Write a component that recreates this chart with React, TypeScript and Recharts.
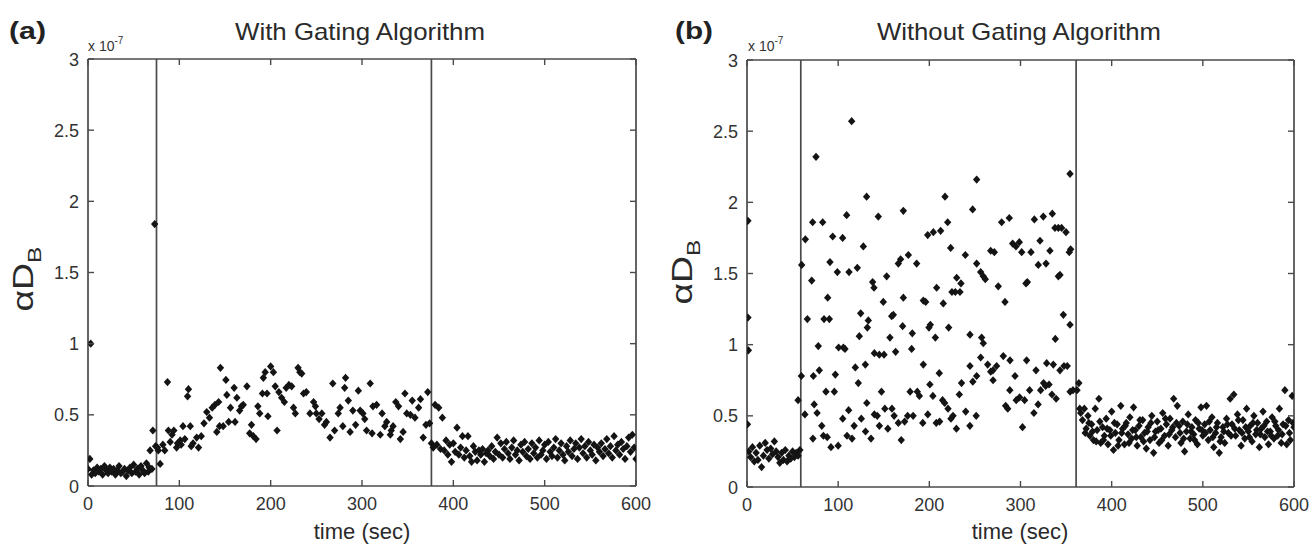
import React from "react";
import { ScatterChart, Scatter, XAxis, YAxis, ReferenceLine } from "recharts";

// values are in units of 1e-7 (the axis carries the "x 10^-7" factor)
const STEP = 2; // sampling interval, seconds
const X_TICKS = [0, 100, 200, 300, 400, 500, 600];
const Y_TICKS = [0, 0.5, 1, 1.5, 2, 2.5, 3];

// ---- (a) With Gating Algorithm
const aGates = [75, 376];
const aStartVals = [
  0.12, 0.19, 0.08, 0.11, 0.09, 0.13, 0.1, 0.12, 0.08, 0.14, 0.11, 0.09, 0.13, 0.1, 0.12, 0.08, 0.11,
  0.14, 0.09, 0.1, 0.12, 0.07, 0.11, 0.13, 0.09, 0.15, 0.1, 0.12, 0.08, 0.14, 0.11, 0.09, 0.16, 0.1,
];
const aStartExtra = [
  [3, 1.0], [67, 0.13], [68, 0.25], [70, 0.12], [71, 0.39], [73, 1.84], [74, 0.28],
];
const aMiddle = [
  [76, 0.27], [77, 0.25], [79, 0.155], [82, 0.29], [84, 0.25], [87, 0.73], [88, 0.39], [90, 0.31],
  [92, 0.36], [94, 0.39], [97, 0.27], [98, 0.3], [101, 0.32], [102, 0.29], [104, 0.42], [106, 0.33],
  [109, 0.63], [110, 0.68], [112, 0.42], [113, 0.28], [115, 0.3], [119, 0.34], [121, 0.27], [124, 0.35],
  [127, 0.44], [130, 0.52], [133, 0.48], [136, 0.55], [139, 0.57], [141, 0.38], [143, 0.59], [144, 0.42],
  [145, 0.83], [148, 0.42], [151, 0.745], [152, 0.64], [154, 0.45], [156, 0.55], [160, 0.69], [161, 0.45],
  [163, 0.62], [166, 0.53], [168, 0.56], [170, 0.57], [174, 0.7], [177, 0.37], [179, 0.43], [181, 0.35],
  [184, 0.33], [186, 0.56], [188, 0.51], [191, 0.65], [192, 0.76], [194, 0.8], [196, 0.65], [197, 0.49],
  [200, 0.84], [203, 0.8], [205, 0.7], [207, 0.39], [209, 0.66], [212, 0.62], [215, 0.59], [217, 0.69],
  [220, 0.71], [223, 0.7], [225, 0.55], [227, 0.51], [230, 0.83], [232, 0.8], [234, 0.79], [236, 0.65],
  [239, 0.66], [243, 0.51], [247, 0.59], [249, 0.56], [250, 0.51], [253, 0.47], [256, 0.51], [259, 0.43],
  [261, 0.45], [265, 0.34], [268, 0.72], [270, 0.39], [274, 0.51], [276, 0.55], [279, 0.42], [281, 0.69],
  [282, 0.76], [285, 0.6], [287, 0.38], [290, 0.53], [293, 0.43], [296, 0.67], [298, 0.53], [301, 0.51],
  [303, 0.47], [305, 0.39], [309, 0.72], [311, 0.37], [312, 0.56], [316, 0.57], [320, 0.36], [322, 0.51],
  [325, 0.42], [327, 0.45], [331, 0.36], [332, 0.39], [334, 0.42], [337, 0.59], [340, 0.56], [342, 0.33],
  [345, 0.38], [347, 0.65], [349, 0.51], [353, 0.5], [355, 0.6], [358, 0.48], [362, 0.55], [364, 0.61],
  [367, 0.34], [370, 0.43], [372, 0.66], [374, 0.44],
];
const aEndStart = 376;
const aEndVals = [
  0.3, 0.27, 0.57, 0.29, 0.55, 0.26, 0.48, 0.25, 0.32, 0.22, 0.29, 0.17, 0.3, 0.24, 0.41, 0.22, 0.27,
  0.35, 0.2, 0.25, 0.35, 0.21, 0.17, 0.28, 0.24, 0.18, 0.25, 0.22, 0.26, 0.17, 0.23, 0.25, 0.21, 0.28,
  0.19, 0.24, 0.34, 0.22, 0.3, 0.2, 0.26, 0.31, 0.23, 0.19, 0.27, 0.32, 0.22, 0.25, 0.18, 0.29, 0.24,
  0.31, 0.21, 0.26, 0.19, 0.3, 0.23, 0.27, 0.2, 0.32, 0.22, 0.25, 0.29, 0.19, 0.31, 0.24, 0.21, 0.27,
  0.33, 0.2, 0.25, 0.3, 0.22, 0.18, 0.28, 0.24, 0.32, 0.21, 0.26, 0.3, 0.19, 0.27, 0.33, 0.23, 0.28,
  0.2, 0.31, 0.25, 0.22, 0.29, 0.18, 0.27, 0.24, 0.3, 0.21, 0.26, 0.33, 0.23, 0.28, 0.2, 0.35, 0.25,
  0.29, 0.22, 0.31, 0.26, 0.19, 0.28, 0.34, 0.24, 0.36, 0.27, 0.19,
];

// ---- (b) Without Gating Algorithm
const bGates = [59, 361];
const bStartStart = 2;
const bStartVals = [
  0.25, 0.21, 0.28, 0.18, 0.24, 0.19, 0.29, 0.14, 0.22, 0.31, 0.26, 0.2, 0.27, 0.23, 0.32, 0.25, 0.21,
  0.17, 0.24, 0.19, 0.26, 0.18, 0.22, 0.2, 0.25, 0.21, 0.24, 0.22, 0.26,
];
const bStartExtra = [[0.5, 0.44], [1, 1.87], [1, 1.19], [1.5, 0.96], [56, 0.61]];
const bMiddleHigh = [
  [114.8, 2.57], [75.7, 2.32], [354.3, 2.2], [251.9, 2.16], [131.2, 2.04], [217.2, 2.04], [247.5, 1.95],
  [171.5, 1.94], [109.3, 1.91], [144, 1.9], [287.7, 1.89], [315.2, 1.88], [325, 1.9], [334.9, 1.92],
  [72, 1.86], [83, 1.86], [279.3, 1.86], [220.1, 1.86], [212.4, 1.8], [204.4, 1.79], [198.2, 1.77],
  [337.8, 1.82], [341.5, 1.82], [345.1, 1.82], [349.9, 1.79], [94, 1.76], [104.9, 1.75], [64, 1.74],
  [127.6, 1.69], [223.4, 1.68], [298.7, 1.72], [321.4, 1.73], [291.4, 1.71], [295, 1.69], [267.3, 1.66],
  [271.3, 1.65], [301.3, 1.65], [311.5, 1.65], [332.3, 1.66], [355, 1.67], [353.5, 1.65], [177, 1.63],
  [168.5, 1.6], [166, 1.57], [186.1, 1.57], [91, 1.58], [60, 1.56], [121, 1.54], [111.9, 1.51],
  [99.1, 1.51], [239.5, 1.63], [251.9, 1.57], [256.3, 1.51], [259.2, 1.48], [261.4, 1.46], [153.2, 1.48],
  [319.5, 1.56], [328, 1.57], [307.5, 1.44], [306, 1.43], [343.3, 1.49], [341.5, 1.48], [230, 1.47],
  [234.7, 1.43], [71, 1.45], [137.8, 1.44], [139.3, 1.4], [208, 1.4], [196, 1.3], [215.3, 1.29],
  [193.4, 1.31], [224.8, 1.37], [228.5, 1.37], [233.6, 1.37], [275.6, 1.41], [88.5, 1.33], [149.5, 1.3],
  [171.5, 1.33], [347, 1.21], [158.7, 1.2], [160.5, 1.21], [66.2, 1.18], [84.5, 1.18], [90.3, 1.18],
  [124.7, 1.22], [133.1, 1.17], [132, 1.12], [201.1, 1.14], [199.6, 1.12], [221.2, 1.12], [244.6, 1.07],
  [257.4, 1.05], [259.2, 1.01], [156.8, 1.05], [170.7, 1.13], [181.3, 1.08], [206.6, 1.05], [354.3, 1.14],
  [338.2, 1.04], [283, 1.3], [105.7, 0.98], [100.5, 0.98], [78.2, 0.99], [123.2, 1.06], [163, 0.95],
  [107.5, 0.97], [139.7, 0.94], [145.1, 0.93], [150.3, 0.93], [180.6, 0.97], [129.8, 0.86], [118.8, 0.84],
  [79.3, 0.82], [193.4, 0.86], [210.9, 0.8], [244.6, 0.85], [256.3, 0.91], [264, 0.86], [267.3, 0.81],
  [269.8, 0.82], [273.8, 0.85], [281.1, 0.92], [288.5, 0.89], [306.7, 0.89], [317, 0.82], [328.7, 0.87],
  [336, 0.86], [343.3, 0.82], [347.7, 0.85], [351.3, 0.85], [59.6, 0.78], [72.8, 0.78], [96.9, 0.79],
  [251.9, 0.78], [294, 0.78],
];
const bMiddleLow = [
  [63.5, 0.51], [72.3, 0.34], [73.7, 0.58], [76.9, 0.52], [82, 0.43], [83.8, 0.36], [86.6, 0.67],
  [88, 0.35], [92.1, 0.28], [95.8, 0.67], [100, 0.29], [105, 0.48], [109.7, 0.36], [111.5, 0.54],
  [115.2, 0.34], [117.5, 0.43], [122.1, 0.73], [125.4, 0.48], [130, 0.39], [131.4, 0.59], [136, 0.34],
  [139.7, 0.51], [142.9, 0.5], [145.2, 0.43], [147.5, 0.67], [151.2, 0.55], [154.5, 0.41], [159, 0.55],
  [161.4, 0.5], [166, 0.45], [169.2, 0.33], [172.9, 0.46], [176.2, 0.5], [178.9, 0.67], [182.2, 0.5],
  [186.8, 0.67], [189.1, 0.64], [192.8, 0.45], [198.3, 0.51], [200.6, 0.72], [203.9, 0.64], [207.6, 0.45],
  [211.3, 0.46], [214.5, 0.61], [216.8, 0.59], [220.5, 0.55], [223.7, 0.48], [226, 0.5], [229.7, 0.41],
  [232.9, 0.65], [235.3, 0.73], [239.9, 0.53], [244.5, 0.43], [247.7, 0.74], [251.4, 0.5], [269.9, 0.75],
  [283.7, 0.57], [286, 0.55], [288.3, 0.68], [295.3, 0.61], [299, 0.63], [302.2, 0.42], [304.5, 0.61],
  [310, 0.68], [314.7, 0.52], [319.3, 0.58], [322.1, 0.68], [325.3, 0.73], [327.6, 0.71], [331.3, 0.72],
  [334.5, 0.65], [339.1, 0.62], [354.4, 0.67], [357.6, 0.68],
];
const bEndStart = 362;
const bEndVals = [
  0.68, 0.73, 0.52, 0.47, 0.55, 0.41, 0.5, 0.36, 0.44, 0.33, 0.55, 0.4, 0.62, 0.31, 0.42, 0.36, 0.48,
  0.3, 0.4, 0.53, 0.26, 0.38, 0.44, 0.33, 0.57, 0.41, 0.3, 0.45, 0.37, 0.49, 0.34, 0.56, 0.4, 0.29,
  0.43, 0.35, 0.47, 0.38, 0.27, 0.42, 0.33, 0.5, 0.24, 0.39, 0.46, 0.31, 0.41, 0.52, 0.36, 0.44, 0.29,
  0.48, 0.4, 0.62, 0.35, 0.57, 0.43, 0.31, 0.46, 0.25, 0.39, 0.51, 0.34, 0.42, 0.37, 0.47, 0.3, 0.41,
  0.56, 0.36, 0.44, 0.57, 0.33, 0.4, 0.49, 0.28, 0.38, 0.45, 0.24, 0.35, 0.42, 0.31, 0.48, 0.38, 0.62,
  0.44, 0.65, 0.36, 0.51, 0.4, 0.29, 0.47, 0.34, 0.55, 0.39, 0.43, 0.32, 0.5, 0.37, 0.45, 0.28, 0.41,
  0.53, 0.35, 0.46, 0.3, 0.39, 0.49, 0.34, 0.43, 0.36, 0.55, 0.31, 0.44, 0.68, 0.3, 0.47, 0.33, 0.64,
  0.42,
];
// extra samples filling the dense band after the second gate
const bEndExtra = [
  [365, 0.55], [371, 0.38], [375, 0.45], [379, 0.39], [383, 0.32], [387, 0.46], [391, 0.33], [395, 0.41],
  [399, 0.36], [403, 0.45], [407, 0.29], [411, 0.38], [415, 0.43], [419, 0.31], [423, 0.4], [427, 0.35],
  [431, 0.47], [435, 0.32], [439, 0.39], [443, 0.45], [447, 0.35], [451, 0.4], [455, 0.33], [459, 0.48],
  [463, 0.37], [467, 0.42], [471, 0.45], [475, 0.38], [479, 0.34], [483, 0.44], [487, 0.39], [491, 0.33],
  [495, 0.45], [499, 0.4], [503, 0.38], [507, 0.46], [511, 0.35], [515, 0.42], [519, 0.32], [523, 0.39],
  [527, 0.44], [531, 0.36], [535, 0.41], [539, 0.47], [543, 0.38], [547, 0.42], [551, 0.35], [555, 0.45],
  [559, 0.4], [563, 0.37], [567, 0.43], [571, 0.39], [575, 0.36], [579, 0.46], [583, 0.4], [587, 0.37],
  [591, 0.43], [595, 0.38], [599, 0.45],
];

type Pt = { t: number; v: number };
const fromGrid = (start: number, vals: number[]): Pt[] => vals.map((v, i) => ({ t: start + i * STEP, v }));
const fromPairs = (pairs: number[][]): Pt[] => pairs.map(([t, v]) => ({ t, v }));

const aPoints = [
  ...fromGrid(0, aStartVals),
  ...fromPairs(aStartExtra),
  ...fromPairs(aMiddle),
  ...fromGrid(aEndStart, aEndVals),
];
const bPoints = [
  ...fromGrid(bStartStart, bStartVals),
  ...fromPairs(bStartExtra),
  ...fromPairs(bMiddleHigh),
  ...fromPairs(bMiddleLow),
  ...fromGrid(bEndStart, bEndVals),
  ...fromPairs(bEndExtra),
];

const FRAME = "#4a4a4a";
const TEXT = "#333";
const MARK = "#141414";
const FONT = "'Liberation Sans', Arial, Helvetica, sans-serif";
const TICK_LEN = 6;

const Diamond = (props: any) => {
  const { cx, cy } = props;
  if (cx == null || cy == null) return null;
  return <path d={`M${cx},${cy - 4.1}L${cx + 3.7},${cy}L${cx},${cy + 4.1}L${cx - 3.7},${cy}Z`} fill={MARK} />;
};

const BottomTick = (p: any) => (
  <g>
    <line x1={p.x} y1={p.y} x2={p.x} y2={p.y - TICK_LEN} stroke={FRAME} strokeWidth={1.4} />
    <text x={p.x} y={p.y + 24} textAnchor="middle" fontSize={18} fill={TEXT} fontFamily={FONT}>
      {p.payload.value}
    </text>
  </g>
);
const TopTick = (p: any) => (
  <line x1={p.x} y1={p.y} x2={p.x} y2={p.y + TICK_LEN} stroke={FRAME} strokeWidth={1.4} />
);
const LeftTick = (p: any) => (
  <g>
    <line x1={p.x} y1={p.y} x2={p.x + TICK_LEN} y2={p.y} stroke={FRAME} strokeWidth={1.4} />
    <text x={p.x - 9} y={p.y + 6.5} textAnchor="end" fontSize={18} fill={TEXT} fontFamily={FONT}>
      {p.payload.value}
    </text>
  </g>
);
const RightTick = (p: any) => (
  <line x1={p.x} y1={p.y} x2={p.x - TICK_LEN} y2={p.y} stroke={FRAME} strokeWidth={1.4} />
);

type Margin = { top: number; right: number; bottom: number; left: number };

const Panel = ({ points, gates, margin }: { points: Pt[]; gates: number[]; margin: Margin }) => {
  const axisLine = { stroke: FRAME, strokeWidth: 1.7 };
  return (
    <ScatterChart width={655} height={546} margin={margin}>
      <XAxis
        xAxisId="bottom"
        type="number"
        dataKey="t"
        domain={[0, 600]}
        ticks={X_TICKS}
        interval={0}
        height={30}
        tickSize={0}
        tickMargin={0}
        tickLine={false}
        axisLine={axisLine}
        tick={(p: any) => <BottomTick {...p} />}
        allowDataOverflow
      />
      <XAxis
        xAxisId="top"
        orientation="top"
        type="number"
        dataKey="t"
        domain={[0, 600]}
        ticks={X_TICKS}
        interval={0}
        height={1}
        tickSize={0}
        tickMargin={0}
        tickLine={false}
        axisLine={axisLine}
        tick={(p: any) => <TopTick {...p} />}
        allowDataOverflow
      />
      <YAxis
        yAxisId="left"
        type="number"
        dataKey="v"
        domain={[0, 3]}
        ticks={Y_TICKS}
        interval={0}
        width={60}
        tickSize={0}
        tickMargin={0}
        tickLine={false}
        axisLine={axisLine}
        tick={(p: any) => <LeftTick {...p} />}
        allowDataOverflow
      />
      <YAxis
        yAxisId="right"
        orientation="right"
        type="number"
        dataKey="v"
        domain={[0, 3]}
        ticks={Y_TICKS}
        interval={0}
        width={1}
        tickSize={0}
        tickMargin={0}
        tickLine={false}
        axisLine={axisLine}
        tick={(p: any) => <RightTick {...p} />}
        allowDataOverflow
      />
      {gates.map((g) => (
        <ReferenceLine key={g} x={g} xAxisId="bottom" yAxisId="left" stroke={FRAME} strokeWidth={1.7} />
      ))}
      <Scatter
        data={points}
        xAxisId="bottom"
        yAxisId="left"
        shape={(p: any) => <Diamond {...p} />}
        isAnimationActive={false}
      />
    </ScatterChart>
  );
};

const Labels = () => (
  <svg width={1310} height={546} style={{ position: "absolute", left: 0, top: 0, pointerEvents: "none" }} fontFamily={FONT}>
    {/* panel (a) */}
    <text x={9} y={39} fontSize={24} fontWeight="bold" fill="#222" textLength={37} lengthAdjust="spacingAndGlyphs">(a)</text>
    <text x={360} y={40} fontSize={24} fill="#2a2a2a" textAnchor="middle" textLength={250} lengthAdjust="spacingAndGlyphs">
      With Gating Algorithm
    </text>
    <text x={88} y={51} fontSize={14} fill={TEXT}>
      x 10<tspan fontSize={10} dy={-7}>-7</tspan>
    </text>
    <text transform="translate(33,279) rotate(-90)" fontSize={29} fill="#2a2a2a" textAnchor="middle" textLength={65} lengthAdjust="spacingAndGlyphs">
      αD<tspan fontSize={19} dy={8}>B</tspan>
    </text>
    <text x={362} y={539} fontSize={22} fill="#2a2a2a" textAnchor="middle">time (sec)</text>

    {/* panel (b) */}
    <text x={675} y={39} fontSize={24} fontWeight="bold" fill="#222" textLength={38} lengthAdjust="spacingAndGlyphs">(b)</text>
    <text x={1019} y={40} fontSize={24} fill="#2a2a2a" textAnchor="middle" textLength={284} lengthAdjust="spacingAndGlyphs">
      Without Gating Algorithm
    </text>
    <text x={748} y={51} fontSize={14} fill={TEXT}>
      x 10<tspan fontSize={10} dy={-7}>-7</tspan>
    </text>
    <text transform="translate(692,272) rotate(-90)" fontSize={29} fill="#2a2a2a" textAnchor="middle" textLength={65} lengthAdjust="spacingAndGlyphs">
      αD<tspan fontSize={19} dy={8}>B</tspan>
    </text>
    <text x={1020} y={539} fontSize={22} fill="#2a2a2a" textAnchor="middle">time (sec)</text>
  </svg>
);

export default function App() {
  return (
    <div style={{ position: "absolute", left: 0, top: 0, width: 1310, height: 546, background: "#fff", fontFamily: FONT }}>
      <div style={{ position: "absolute", left: 0, top: 0 }}>
        <Panel points={aPoints} gates={aGates} margin={{ top: 58, right: 18, bottom: 30, left: 28 }} />
      </div>
      <div style={{ position: "absolute", left: 655, top: 0 }}>
        <Panel points={bPoints} gates={bGates} margin={{ top: 59, right: 15, bottom: 29, left: 32 }} />
      </div>
      <Labels />
    </div>
  );
}
